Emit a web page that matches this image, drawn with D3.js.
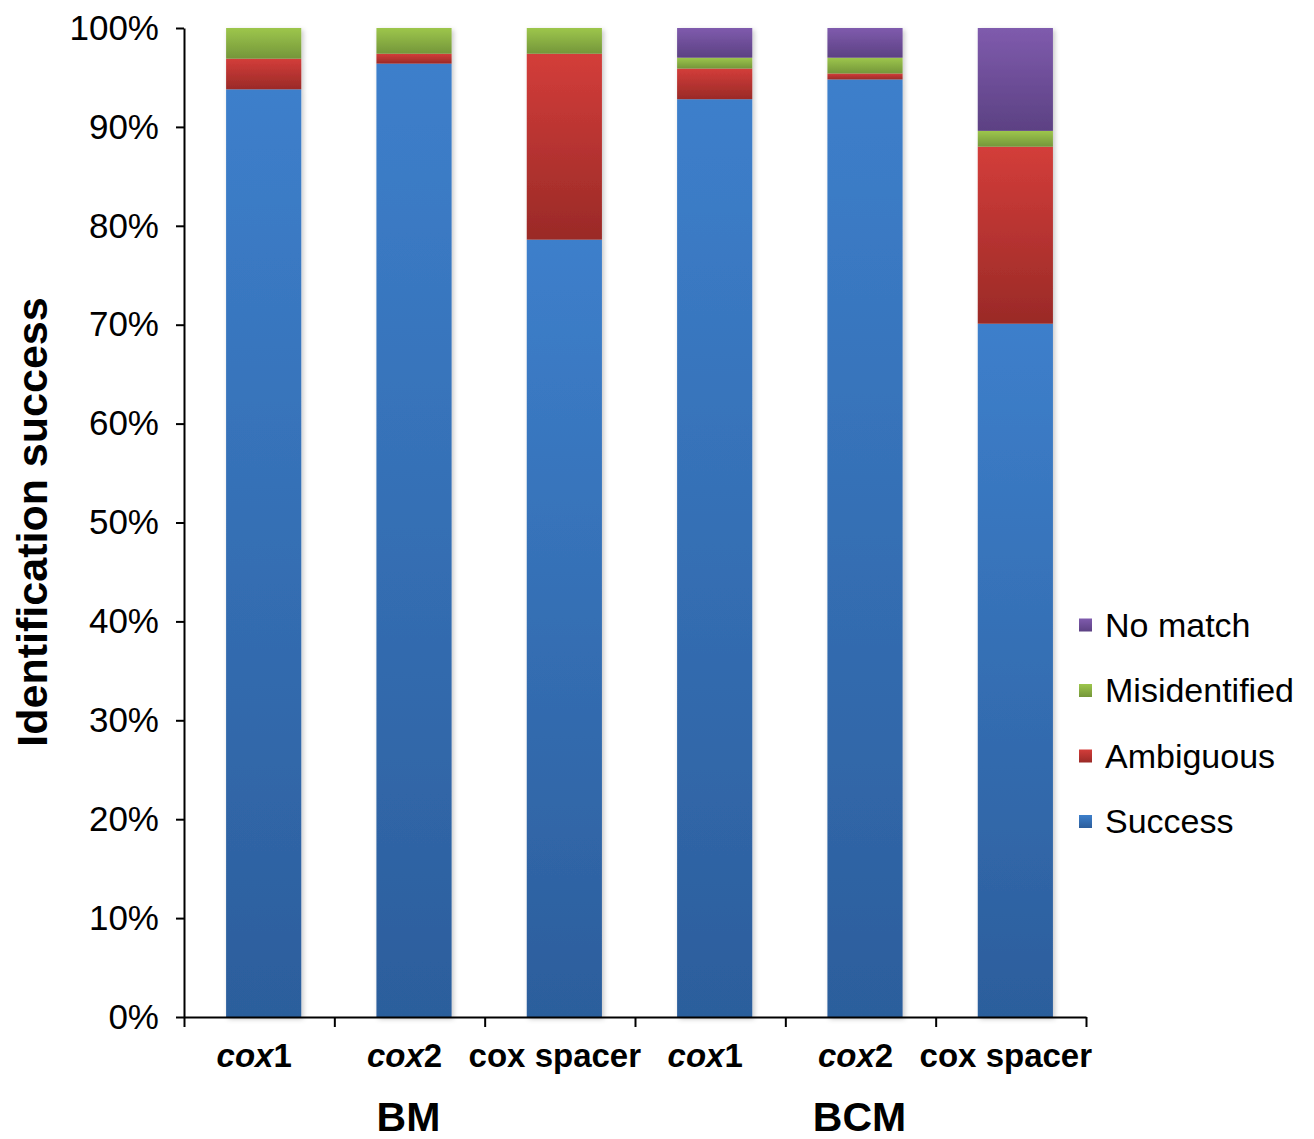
<!DOCTYPE html>
<html>
<head>
<meta charset="utf-8">
<script src="https://cdn.jsdelivr.net/npm/d3@7"></script>
<style>
  html, body { margin: 0; padding: 0; background: #fff; }
  svg { display: block; font-family: "Liberation Sans", Arial, Helvetica, sans-serif; }
</style>
</head>
<body>
<svg id="chart" width="1314" height="1139"></svg>
<script>
// Markers and their labels (cox1 / cox2 are gene names, set in italics)
const categories = ["cox1", "cox2", "cox spacer", "cox1", "cox2", "cox spacer"];
const groups = ["BM", "BCM"];

// Percentage of specimens in each identification outcome
const success       = [93.8, 96.4, 78.6, 92.8, 94.8, 70.1];
const ambiguous     = [3.1, 1.0, 18.8, 3.1, 0.6, 17.9];
const misidentified = [3.1, 2.6, 2.6, 1.1, 1.6, 1.6];
const noMatch       = [0, 0, 0, 3.0, 3.0, 10.4];

const seriesNames = ["Success", "Ambiguous", "Misidentified", "No match"];
const yTicks = [0, 10, 20, 30, 40, 50, 60, 70, 80, 90, 100];

// Gradient stops (top, bottom) for each outcome
const seriesColors = {
  "Success":       ["#3d7fcb", "#2c5e9c"],
  "Ambiguous":     ["#d33d3a", "#9a2a27"],
  "Misidentified": ["#9dc64c", "#74963a"],
  "No match":      ["#7f5bad", "#5c4183"]
};

const rows = categories.map((c, i) => ({
  idx: i,
  "Success": success[i],
  "Ambiguous": ambiguous[i],
  "Misidentified": misidentified[i],
  "No match": noMatch[i]
}));

const svg = d3.select("#chart");
const plotLeft = 184, plotRight = 1086, plotTop = 28, plotBottom = 1017;

const y = d3.scaleLinear().domain([0, 100]).range([plotBottom, plotTop]);
const x = d3.scaleBand().domain(d3.range(categories.length))
  .range([plotLeft, plotRight]).paddingInner(0.5).paddingOuter(0.25).align(0.56);
const xEdge = d3.scaleLinear().domain([0, categories.length]).range([plotLeft, plotRight]);

const defs = svg.append("defs");
seriesNames.forEach((s, k) => {
  const g = defs.append("linearGradient").attr("id", "grad" + k)
    .attr("x1", 0).attr("y1", 0).attr("x2", 0).attr("y2", 1);
  g.append("stop").attr("offset", "0%").attr("stop-color", seriesColors[s][0]);
  g.append("stop").attr("offset", "100%").attr("stop-color", seriesColors[s][1]);
});
const shadow = defs.append("filter").attr("id", "barShadow")
  .attr("x", "-20%").attr("y", "-5%").attr("width", "140%").attr("height", "110%");
shadow.append("feDropShadow").attr("dx", 2).attr("dy", 2)
  .attr("stdDeviation", 2.5).attr("flood-color", "#000").attr("flood-opacity", 0.22);

// Stacked bars
const stacked = d3.stack().keys(seriesNames)(rows);
const barLayer = svg.append("g").attr("filter", "url(#barShadow)");
stacked.forEach((layer, k) => {
  barLayer.append("g")
    .selectAll("rect")
    .data(layer.filter(d => d[1] - d[0] > 0))
    .join("rect")
    .attr("x", d => x(d.data.idx))
    .attr("width", x.bandwidth())
    .attr("y", d => y(d[1]))
    .attr("height", d => y(d[0]) - y(d[1]))
    .attr("fill", "url(#grad" + k + ")");
});

// Y axis
const yAxis = svg.append("g").attr("transform", `translate(${plotLeft},0)`)
  .call(d3.axisLeft(y).tickValues(yTicks).tickFormat(d => d + "%")
    .tickSize(8).tickSizeOuter(0).tickPadding(17));
yAxis.select(".domain").attr("stroke", "#000").attr("stroke-width", 2);
yAxis.selectAll(".tick line").attr("stroke", "#000").attr("stroke-width", 2);
yAxis.selectAll(".tick text").attr("font-size", 35).attr("fill", "#000")
  .attr("font-family", "\"Liberation Sans\", Arial, sans-serif");

// X axis with ticks on category boundaries
const xAxis = svg.append("g").attr("transform", `translate(0,${plotBottom})`)
  .call(d3.axisBottom(xEdge).tickValues(d3.range(categories.length + 1))
    .tickFormat("").tickSize(10).tickSizeOuter(0));
xAxis.select(".domain").attr("stroke", "#000").attr("stroke-width", 2);
xAxis.selectAll(".tick line").attr("stroke", "#000").attr("stroke-width", 2);

// Category labels
const catLabels = svg.append("g").attr("font-size", 33).attr("font-weight", "bold")
  .attr("text-anchor", "middle");
categories.forEach((c, i) => {
  const t = catLabels.append("text")
    .attr("x", xEdge(i + 0.5) - 5).attr("y", 1067);
  const m = c.match(/^(cox)(\d)$/);
  if (m) {
    t.append("tspan").attr("font-style", "italic").text(m[1]);
    t.append("tspan").text(m[2]);
  } else {
    t.text(c);
  }
});

// Group labels
const perGroup = categories.length / groups.length;
svg.append("g").attr("font-size", 41).attr("font-weight", "bold").attr("text-anchor", "middle")
  .selectAll("text").data(groups).join("text")
  .attr("x", (d, i) => xEdge(i * perGroup + perGroup / 2) - 1)
  .attr("y", 1131)
  .text(d => d);

// Y title
svg.append("text")
  .attr("transform", "translate(47,522) rotate(-90)")
  .attr("text-anchor", "middle").attr("font-size", 43).attr("font-weight", "bold")
  .text("Identification success");

// Legend (top entry is the top of the stack)
const legendOrder = seriesNames.slice().reverse();
const legend = svg.append("g");
legendOrder.forEach((s, j) => {
  const k = seriesNames.indexOf(s);
  const cy = 625 + j * 65.5;
  legend.append("rect").attr("x", 1079).attr("y", cy - 6.5)
    .attr("width", 13).attr("height", 13).attr("fill", "url(#grad" + k + ")");
  legend.append("text").attr("x", 1105).attr("y", cy).attr("dy", "0.35em")
    .attr("font-size", 34).text(s);
});
</script>
</body>
</html>
